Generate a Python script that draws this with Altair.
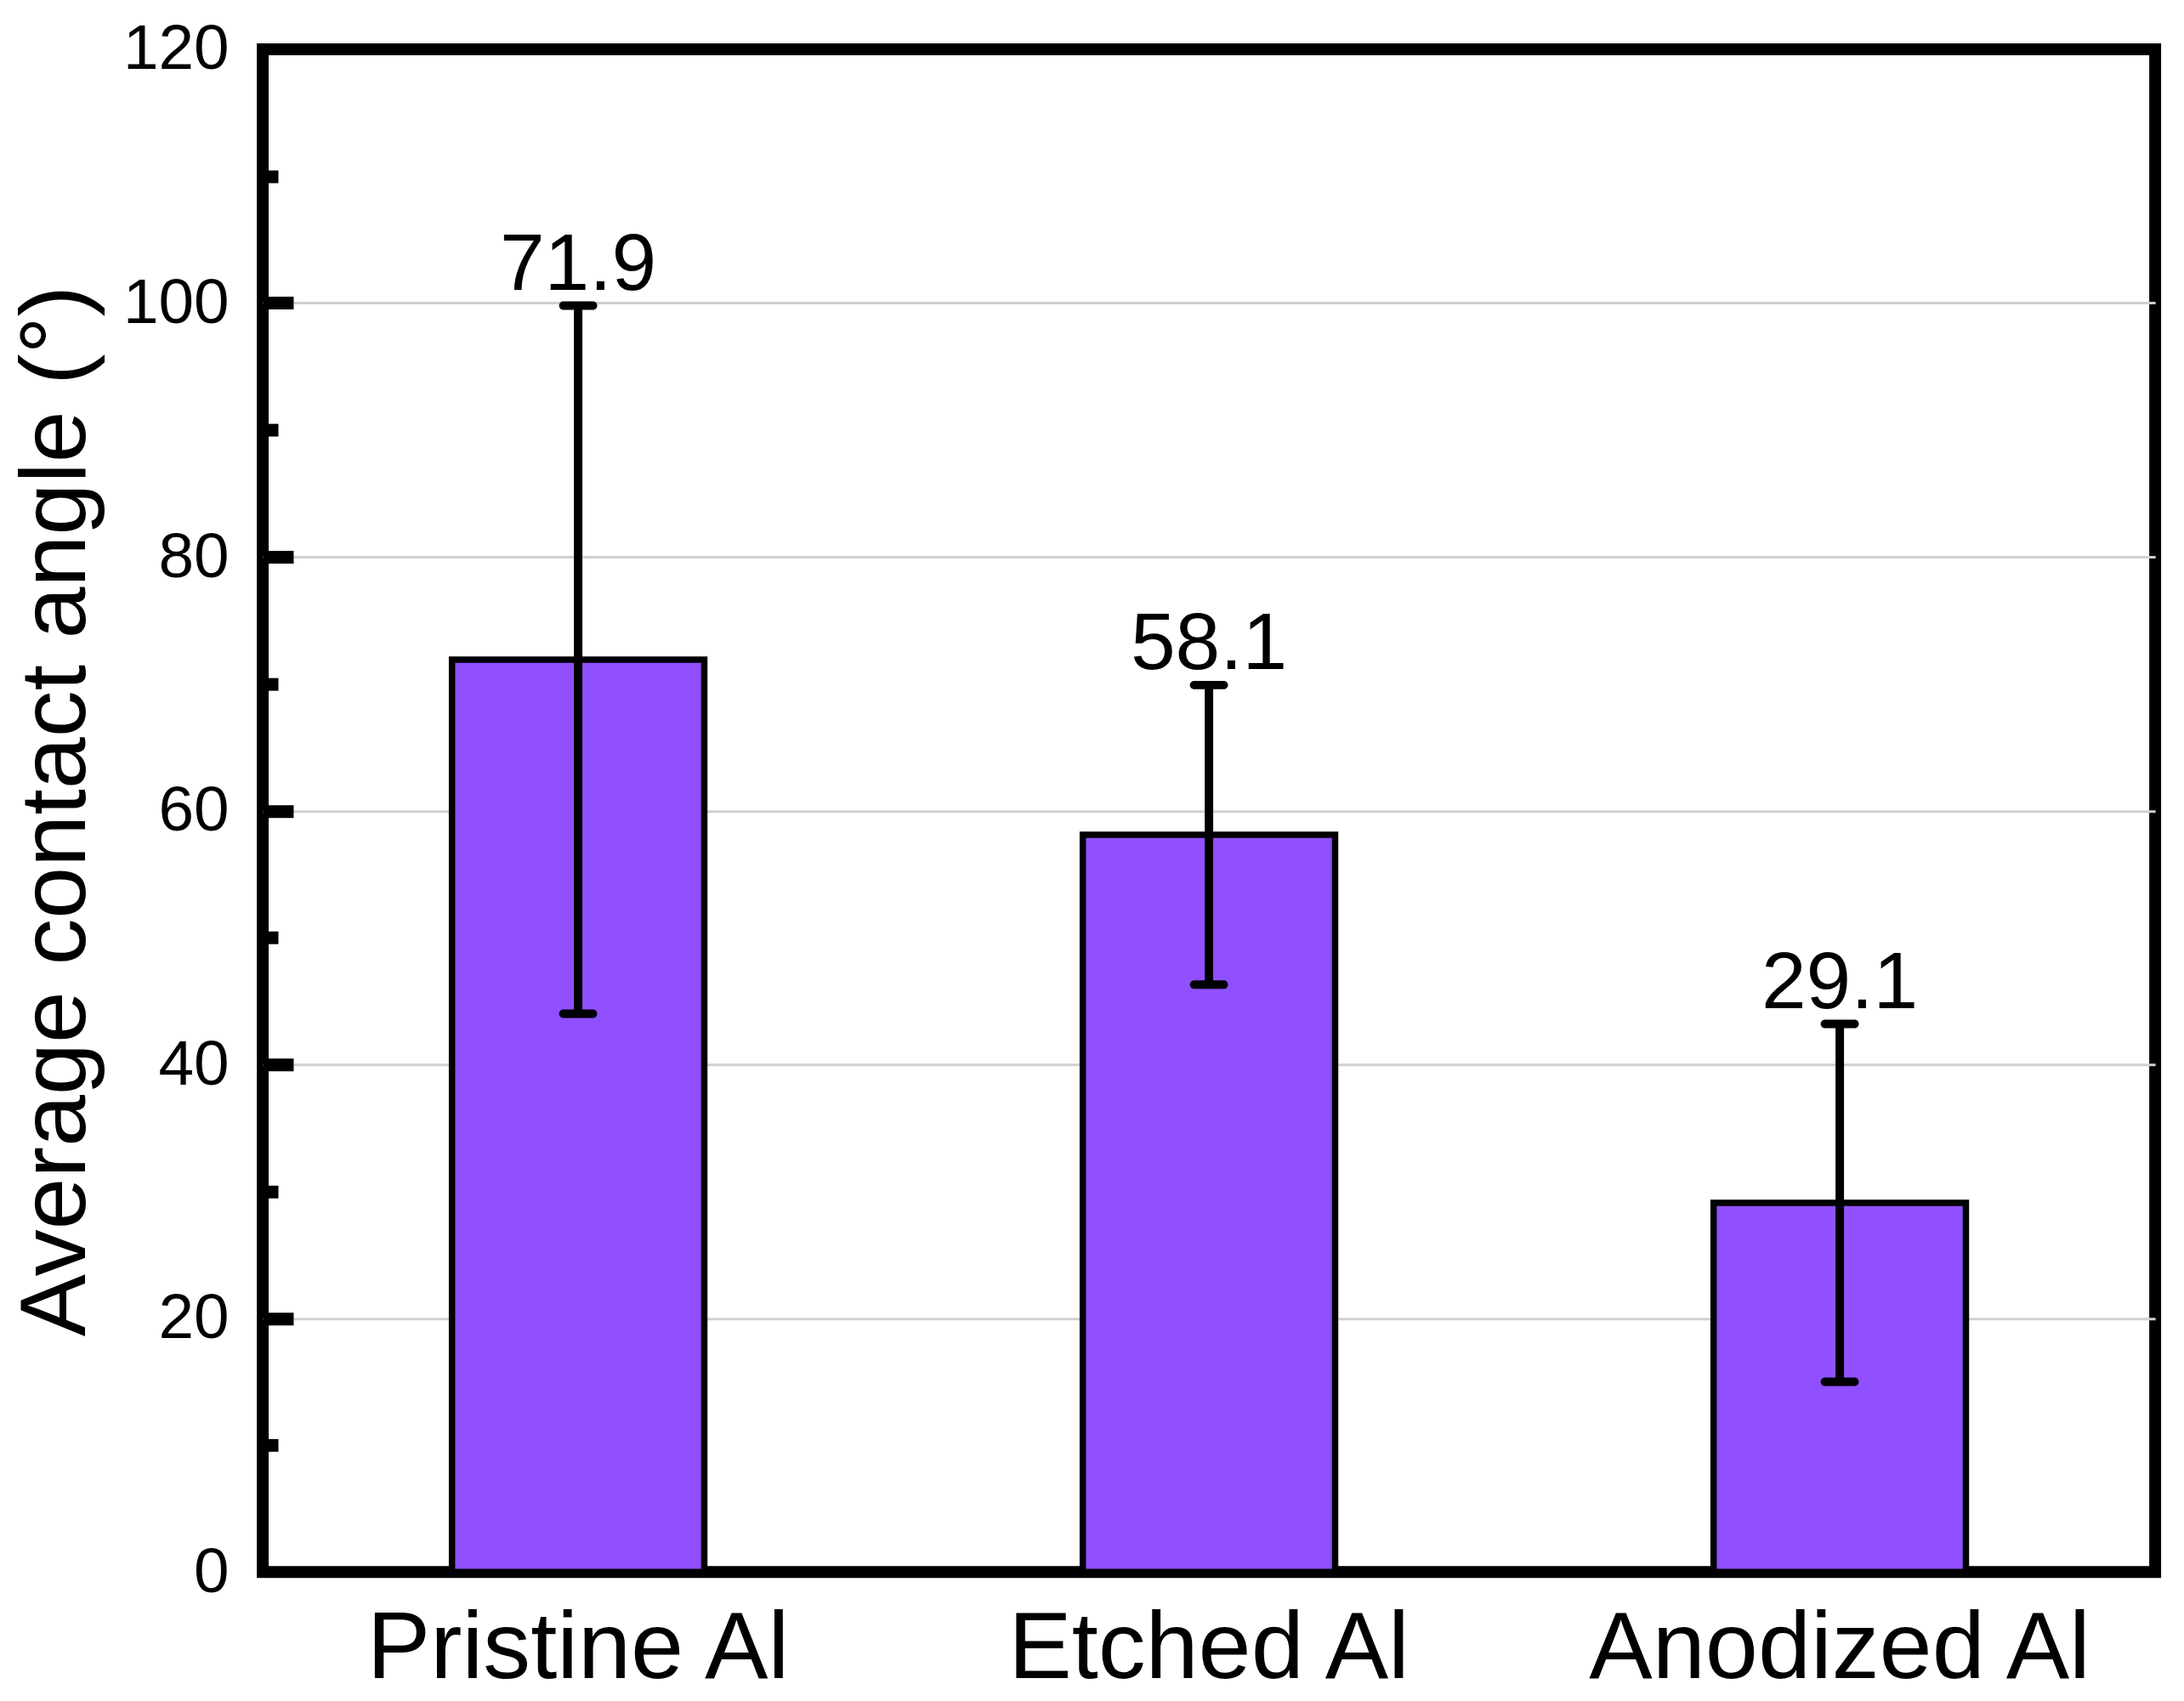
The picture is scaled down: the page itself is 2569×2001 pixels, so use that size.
import altair as alt
import pandas as pd

categories = ["Pristine Al", "Etched Al", "Anodized Al"]
means = [71.9, 58.1, 29.1]
lows = [44.0, 46.3, 15.0]
highs = [99.8, 69.9, 43.2]
label_ticks = [0, 20, 40, 60, 80, 100, 120]
inner_major = [20, 40, 60, 80, 100]
minor_ticks = [10, 30, 50, 70, 90, 110]

df = pd.DataFrame({"cat": categories, "mean": means, "lo": lows, "hi": highs})
df["label"] = [f"{m:.1f}" for m in means]

W, H = 2233, 1797
FONT = "Liberation Sans"

yscale = alt.Scale(domain=[0, 120], nice=False, zero=True)
xaxis = alt.Axis(title=None, labelFontSize=112, labelColor="black", labelPadding=37,
                 labelLimit=2000, ticks=False, domain=False, labelAngle=0, grid=False,
                 labelFont=FONT)
xenc = alt.X("cat:N", sort=categories,
             scale=alt.Scale(paddingInner=0.6, paddingOuter=0.3), axis=xaxis)

base = alt.Chart(df)

bars = base.mark_bar(color="#9150FF", stroke="black", strokeWidth=7.5, opacity=1).encode(
    x=xenc,
    y=alt.Y("mean:Q", scale=yscale, axis=alt.Axis(
        orient="left", values=label_ticks, title="Average contact angle (°)",
        labelFontSize=75, labelColor="black", labelPadding=40, labelFont=FONT,
        ticks=False, domain=False, grid=True, gridColor="#d0d0d0", gridWidth=3,
        gridOpacity={"condition": {"test": "datum.value == 0 || datum.value == 120", "value": 0}, "value": 1},
        titleFontSize=110, titleFontWeight="normal", titleColor="black", titleFont=FONT,
        titleAngle=270, titleX=-210, titleY=H / 2, titleBaseline="alphabetic",
        titleAlign="center", titleLimit=3000)),
)

stems = base.mark_rule(color="black", strokeWidth=10, opacity=1).encode(
    x=xenc,
    y=alt.Y("lo:Q", scale=yscale, axis=alt.Axis(
        orient="right", offset=-W, values=inner_major, labels=False, domain=False,
        grid=False, ticks=True, tickSize=36, tickWidth=15, tickColor="black", title=None)),
    y2="hi:Q",
)

caps_hi = base.mark_tick(color="black", size=45, thickness=10, cornerRadius=5, opacity=1).encode(
    x=xenc,
    y=alt.Y("hi:Q", scale=yscale, axis=alt.Axis(
        orient="right", offset=-W, values=minor_ticks, labels=False, domain=False,
        grid=False, ticks=True, tickSize=18, tickWidth=15, tickColor="black", title=None)),
)

caps_lo = base.mark_tick(color="black", size=45, thickness=10, cornerRadius=5, opacity=1).encode(
    x=xenc,
    y=alt.Y("lo:Q", scale=yscale, axis=None),
)

text = base.mark_text(fontSize=95, baseline="alphabetic", dy=-19, color="black", font=FONT).encode(
    x=xenc,
    y=alt.Y("hi:Q", scale=yscale, axis=None),
    text="label:N",
)

chart = alt.layer(bars, stems, caps_hi, caps_lo, text).resolve_axis(y="independent").properties(
    width=W, height=H,
    autosize=alt.AutoSizeParams(type="none"),
    padding={"left": 302, "top": 47, "right": 26, "bottom": 149},
    background="white",
).configure(font=FONT).configure_view(stroke="black", strokeWidth=14)

chart.save("out.html", embed_options={"renderer": "svg", "actions": False})
